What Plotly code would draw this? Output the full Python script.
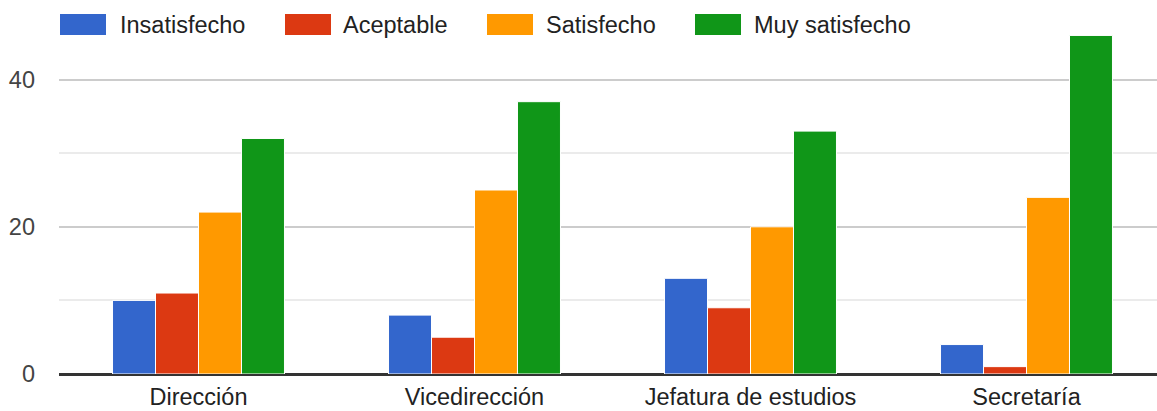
import plotly.graph_objects as go

categories = ["Dirección", "Vicedirección", "Jefatura de estudios", "Secretaría"]
series_names = ["Insatisfecho", "Aceptable", "Satisfecho", "Muy satisfecho"]
insatisfecho = [10, 8, 13, 4]
aceptable = [11, 5, 9, 1]
satisfecho = [22, 25, 20, 24]
muy_satisfecho = [32, 37, 33, 46]
y_tickvals = [0, 20, 40]
y_ticktext = ["0", "20", "40"]

colors = ["#3366cc", "#dc3912", "#ff9900", "#109618"]
values = [insatisfecho, aceptable, satisfecho, muy_satisfecho]

W, H = 1157, 411
L, R, T, B = 59, 0, 6, 37
PW, PH = W - L - R, H - T - B
FONT = "Liberation Sans, Arial, sans-serif"

fig = go.Figure()
for name, vals, col in zip(series_names, values, colors):
    fig.add_trace(go.Bar(
        x=categories, y=vals, name=name,
        marker=dict(color=col, line=dict(color="white", width=1)),
        showlegend=False,
    ))

def px_x(p):
    return (p - L) / PW

def px_y(p):
    return (H - B - p) / PH

# manual legend (Google-charts style wide swatches)
legend_items = [(60, 118), (285, 341), (487, 544), (695, 752)]
shapes = []
annotations = []
for (sx, tx), name, col in zip(legend_items, series_names, colors):
    shapes.append(dict(type="rect", xref="paper", yref="paper",
                       x0=px_x(sx), x1=px_x(sx + 46), y0=px_y(35), y1=px_y(14),
                       fillcolor=col, line=dict(width=0)))
    annotations.append(dict(xref="paper", yref="paper", x=px_x(tx), y=px_y(24.5),
                            text=name, showarrow=False, xanchor="left", yanchor="middle",
                            font=dict(family=FONT, size=23.5, color="#222222")))

fig.update_layout(
    width=W, height=H,
    margin=dict(l=L, r=R, t=T, b=B, pad=0, autoexpand=False),
    paper_bgcolor="white", plot_bgcolor="white",
    barmode="group", bargap=0.377, bargroupgap=0,
    font=dict(family=FONT, size=23.5, color="#222222"),
    shapes=shapes, annotations=annotations,
    xaxis=dict(showgrid=False, showline=False, ticks="", zeroline=False,
               automargin=False, range=[-0.5054, 3.4728],
               tickfont=dict(family=FONT, size=23.5, color="#222222"),
               ticklabelstandoff=6),
    yaxis=dict(range=[0, 50], tickvals=y_tickvals, ticktext=y_ticktext,
               automargin=False,
               showgrid=True, gridcolor="#cccccc", gridwidth=2,
               zeroline=True, zerolinecolor="#333333", zerolinewidth=3,
               showline=False, ticks="",
               tickfont=dict(family=FONT, size=23.5, color="#444444"),
               ticklabelstandoff=23,
               minor=dict(tickvals=[10, 30, 50], showgrid=True,
                          gridcolor="#ebebeb", gridwidth=2)),
)

fig.write_html("out.html", config={"displayModeBar": False},
               post_script="document.body.style.margin='0px';document.body.style.overflow='hidden';")
